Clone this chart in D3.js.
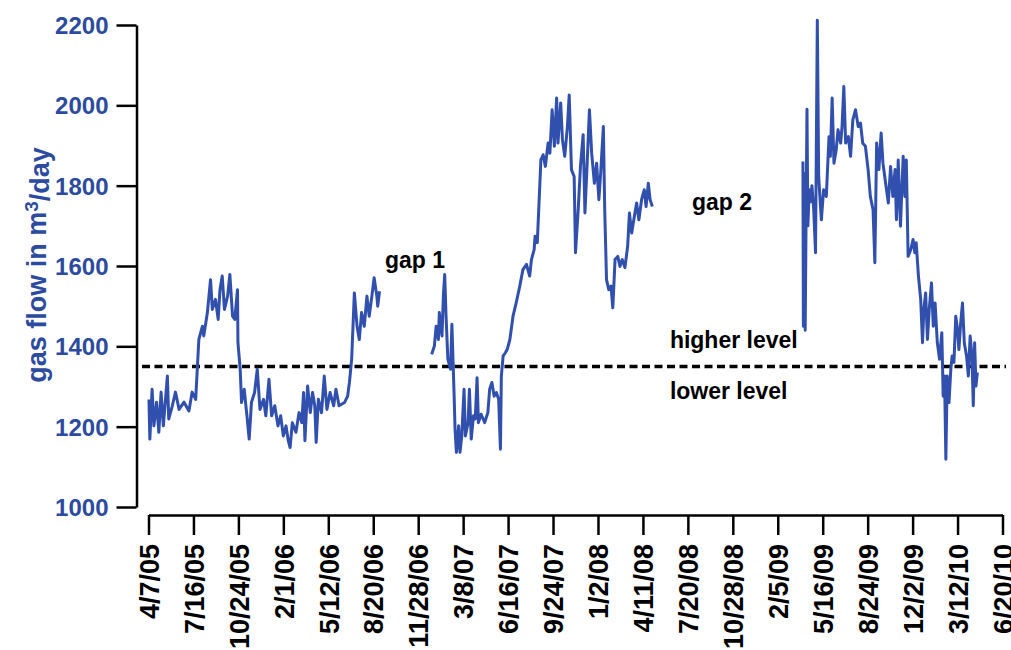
<!DOCTYPE html>
<html>
<head>
<meta charset="utf-8">
<script src="https://cdn.jsdelivr.net/npm/d3@7"></script>
<style>
  body { margin: 0; background: #fff; }
  svg { display: block; font-family: Arial, "Liberation Sans", Helvetica, sans-serif; }
</style>
</head>
<body>
<div id="chart"></div>
<script>
// x tick labels (every 100 days, minor ticks every 50)
var xTickLabels = ["4/7/05", "7/16/05", "10/24/05", "2/1/06", "5/12/06", "8/20/06", "11/28/06",
    "3/8/07", "6/16/07", "9/24/07", "1/2/08", "4/11/08", "7/20/08", "10/28/08", "2/5/09",
    "5/16/09", "8/24/09", "12/2/09", "3/12/10", "6/20/10"];
var yTicks = [1000, 1200, 1400, 1600, 1800, 2000, 2200];
var yMinorTicks = [1100, 1300, 1500, 1700, 1900, 2100];
var levelValue = 1350;

// gas flow, [days since 4/7/05, m3/day] - three measured periods
var period1 = [[1,1268],[3,1169],[8,1293],[12,1202],[18,1261],[23,1186],[28,1286],[33,1202],[42,1326],[45,1219],
    [53,1252],[60,1286],[68,1243],[79,1261],[90,1239],[97,1286],[105,1268],[112,1417],[120,1450],[123,1426],
    [131,1484],[138,1566],[142,1492],[149,1517],[155,1467],[159,1541],[164,1575],[169,1492],[176,1525],[181,1579],
    [187,1475],[192,1467],[198,1541],[199,1409],[204,1343],[207,1260],[213,1293],[219,1227],[224,1169],[229,1260],
    [236,1285],[242,1343],[248,1243],[256,1268],[261,1227],[268,1318],[274,1227],[281,1252],[288,1202],[294,1227],
    [300,1177],[306,1202],[311,1165],[315,1148],[320,1210],[328,1186],[335,1235],[341,1210],[345,1285],[348,1165],
    [354,1301],[360,1235],[365,1285],[370,1252],[373,1161],[378,1268],[385,1235],[391,1326],[397,1243],[404,1285],
    [412,1252],[417,1293],[424,1252],[436,1260],[443,1276],[447,1310],[452,1368],[458,1533],[464,1450],[469,1417],
    [474,1484],[480,1450],[486,1525],[491,1475],[497,1525],[502,1571],[508,1525],[510,1500],[514,1537]];

var period2 = [[630,1380],[636,1401],[640,1450],[645,1417],[647,1484],[653,1426],[656,1525],[659,1579],[662,1475],
    [666,1368],[672,1343],[675,1455],[680,1276],[682,1194],[685,1136],[690,1202],[693,1136],[697,1177],[702,1293],
    [705,1177],[711,1210],[714,1293],[718,1169],[723,1227],[727,1219],[731,1322],[734,1210],[740,1231],[748,1210],
    [755,1235],[759,1293],[764,1310],[769,1276],[774,1285],[779,1268],[783,1144],[785,1326],[789,1376],[794,1384],
    [798,1392],[804,1417],[811,1475],[818,1508],[826,1550],[833,1591],[841,1604],[848,1575],[852,1616],[858,1641],
    [860,1674],[865,1658],[873,1864],[878,1877],[883,1848],[889,1906],[893,1881],[898,1989],[903,1898],[908,2018],
    [911,1906],[917,2006],[921,1914],[926,1873],[932,1947],[936,2026],[941,1840],[947,1823],[950,1633],[956,1740],
    [961,1848],[967,1927],[971,1732],[975,1831],[981,1989],[986,1881],[992,1806],[997,1856],[1002,1765],[1006,1831],
    [1012,1947],[1015,1740],[1019,1566],[1024,1541],[1029,1550],[1033,1496],[1038,1616],[1044,1624],[1049,1599],
    [1054,1616],[1060,1596],[1066,1649],[1070,1732],[1075,1682],[1081,1724],[1086,1757],[1091,1715],[1097,1765],
    [1103,1790],[1107,1748],[1112,1806],[1116,1765],[1121,1748]];

var period3 = [[1456,1860],[1457,1450],[1459,1830],[1461,1440],[1465,1990],[1467,1700],[1470,1790],[1473,1760],
    [1476,1800],[1480,1740],[1484,1633],[1488,2212],[1491,1823],[1497,1715],[1502,1790],[1508,1773],[1514,1922],
    [1517,1873],[1521,2018],[1525,1856],[1530,1889],[1534,1939],[1540,1906],[1543,1947],[1547,2047],[1551,1906],
    [1557,1922],[1562,1873],[1567,1964],[1573,1989],[1579,1947],[1584,1956],[1589,1906],[1595,1898],[1601,1840],
    [1606,1773],[1612,1740],[1616,1608],[1620,1906],[1625,1840],[1630,1931],[1634,1856],[1640,1806],[1646,1757],
    [1651,1848],[1656,1773],[1661,1840],[1664,1715],[1668,1864],[1673,1699],[1679,1873],[1683,1773],[1686,1864],
    [1690,1624],[1696,1641],[1701,1666],[1705,1633],[1708,1658],[1713,1575],[1718,1517],[1722,1409],[1725,1492],
    [1729,1533],[1733,1417],[1737,1492],[1742,1558],[1746,1450],[1750,1508],[1755,1409],[1760,1368],[1765,1434],
    [1768,1276],[1771,1326],[1774,1119],[1777,1326],[1781,1260],[1785,1343],[1788,1376],[1792,1360],[1796,1475],
    [1800,1442],[1803,1392],[1807,1459],[1811,1508],[1815,1409],[1820,1376],[1824,1326],[1828,1426],[1832,1376],
    [1835,1252],[1838,1409],[1841,1301],[1844,1335]];

var annotations = [
    { text: "gap 1", day: 526, value: 1595 },
    { text: "gap 2", day: 1209, value: 1740 },
    { text: "higher level", day: 1160, value: 1395 },
    { text: "lower level", day: 1160, value: 1268 }
];

var width = 1011, height = 650;
var blue = "#3150ad", labelBlue = "#2c4b9e";

var svg = d3.select("#chart").append("svg")
    .attr("width", width)
    .attr("height", height);

var parseTick = d3.utcParse("%m/%d/%y");
var start = parseTick(xTickLabels[0]);
var end = parseTick(xTickLabels[xTickLabels.length - 1]);

var x = d3.scaleUtc().domain([start, end]).range([148.5, 1002.5]);
var y = d3.scaleLinear().domain([1000, 2200]).range([507, 25]);

function dayToDate(d) { return d3.utcDay.offset(start, d); }

// y axis
var yAxisG = svg.append("g").attr("transform", "translate(136.5,0)");
yAxisG.call(d3.axisLeft(y).tickValues(yMinorTicks).tickSize(10).tickSizeOuter(0).tickFormat(""));
yAxisG.call(d3.axisLeft(y).tickValues(yTicks).tickSize(20).tickSizeOuter(0).tickPadding(8)
    .tickFormat(d3.format("d")));
yAxisG.selectAll("path, line").attr("stroke", "#000").attr("stroke-width", 2.5);
yAxisG.selectAll("text")
    .style("font-size", "24px").style("font-weight", "bold")
    .attr("fill", labelBlue).attr("dy", "0.36em");

// x axis
var minorDates = d3.range(0, xTickLabels.length - 1).map(function(i) { return d3.utcDay.offset(start, i * 100 + 50); });
var majorDates = xTickLabels.map(parseTick);
var xAxisG = svg.append("g").attr("transform", "translate(0,515)");
xAxisG.call(d3.axisBottom(x).tickValues(minorDates).tickSize(10).tickSizeOuter(0).tickFormat(""));
xAxisG.call(d3.axisBottom(x).tickValues(majorDates).tickSize(20).tickSizeOuter(0)
    .tickFormat(function(d, i) { return xTickLabels[i]; }));
xAxisG.selectAll("path, line").attr("stroke", "#000").attr("stroke-width", 2.5);
xAxisG.selectAll("text")
    .style("font-size", "27px").style("font-weight", "bold")
    .attr("fill", "#000")
    .attr("transform", "rotate(-90)")
    .attr("text-anchor", "end")
    .attr("x", -29).attr("y", 0).attr("dy", "0.36em");

// threshold between higher and lower level
svg.append("line")
    .attr("x1", 142).attr("x2", 1006)
    .attr("y1", y(levelValue)).attr("y2", y(levelValue))
    .attr("stroke", "#000").attr("stroke-width", 3.5)
    .attr("stroke-dasharray", "8,4.5");

// gas flow line, one path per measured period
var line = d3.line()
    .x(function(d) { return x(dayToDate(d[0])); })
    .y(function(d) { return y(d[1]); });

svg.selectAll(".flow")
    .data([period1, period2, period3])
    .enter().append("path")
    .attr("class", "flow")
    .attr("d", line)
    .attr("fill", "none")
    .attr("stroke", blue)
    .attr("stroke-width", 3)
    .attr("stroke-linejoin", "round");

// annotations
svg.selectAll(".note")
    .data(annotations)
    .enter().append("text")
    .attr("class", "note")
    .attr("x", function(d) { return x(dayToDate(d.day)); })
    .attr("y", function(d) { return y(d.value); })
    .text(function(d) { return d.text; })
    .style("font-size", "23px").style("font-weight", "bold")
    .attr("fill", "#000");

// y axis title
var title = svg.append("text")
    .attr("transform", "translate(46,265) rotate(-90)")
    .attr("text-anchor", "middle")
    .attr("fill", labelBlue)
    .style("font-size", "27px").style("font-weight", "bold");
title.append("tspan").text("gas flow in m");
title.append("tspan").attr("dy", "-0.4em").style("font-size", "19px").text("3");
title.append("tspan").attr("dy", "0.4em").text("/day");
</script>
</body>
</html>
